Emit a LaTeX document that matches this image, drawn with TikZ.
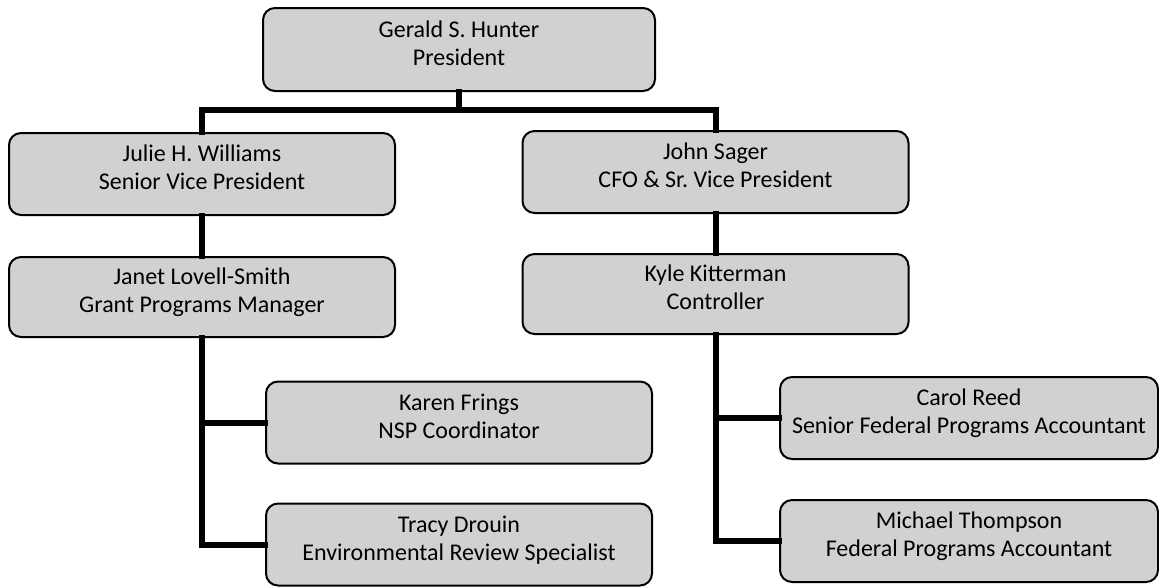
\documentclass[tikz,border=0pt]{standalone}
\usepackage{fontspec}
\setmainfont{Carlito}
\frenchspacing
% name and post, lifted a little above the middle of the box
\newcommand{\post}[2]{\raisebox{2pt}[\height][\depth]{\begin{tabular}{@{}c@{}}#1\\#2\end{tabular}}}
\tikzset{
  person/.style={draw=black, line width=1pt, fill=black!18, rounded corners=6pt,
    minimum width=193pt, minimum height=41pt, inner sep=0pt,
    font=\fontsize{12}{14}\selectfont},
  link/.style={line width=3pt, line cap=rect}
}
\begin{document}
\begin{tikzpicture}[x=0.5pt, y=-0.5pt]
\useasboundingbox (0,0) rectangle (1159,586);

% top
\node[person, minimum width=196pt, minimum height=41.5pt] (hunter) at (459,49.5) {\post{Gerald S. Hunter}{President}};

% vice presidents
\node[person] (williams) at (202,174) {\post{Julie H. Williams}{Senior Vice President}};
\node[person] (sager) at (715.5,172) {\post{John Sager}{CFO \& Sr. Vice President}};

% managers
\node[person, minimum height=40pt] (lovell) at (202,297) {\post{Janet Lovell-Smith}{Grant Programs Manager}};
\node[person, minimum height=40pt] (kitterman) at (715.5,294) {\post{Kyle Kitterman}{Controller}};

% staff
\node[person] (frings) at (459,422.5) {\post{Karen Frings}{NSP Coordinator}};
\node[person] (drouin) at (459,544.5) {\post{Tracy Drouin}{Environmental Review Specialist}};
\node[person, minimum width=189pt] (reed) at (969,418) {\post{Carol Reed}{Senior Federal Programs Accountant}};
\node[person, minimum width=189pt] (thompson) at (969,541) {\post{Michael Thompson}{Federal Programs Accountant}};

\coordinate (bus) at (459,110);

\draw[link] (hunter.south) -- (bus);
\draw[link] (williams.north) |- (bus) -| (sager.north);
\draw[link] (williams) -- (lovell);
\draw[link] (sager) -- (kitterman);
\draw[link] (lovell.south) |- (frings.west);
\draw[link] (lovell.south) |- (drouin.west);
\draw[link] (kitterman.south) |- (reed.west);
\draw[link] (kitterman.south) |- (thompson.west);
\end{tikzpicture}
\end{document}
